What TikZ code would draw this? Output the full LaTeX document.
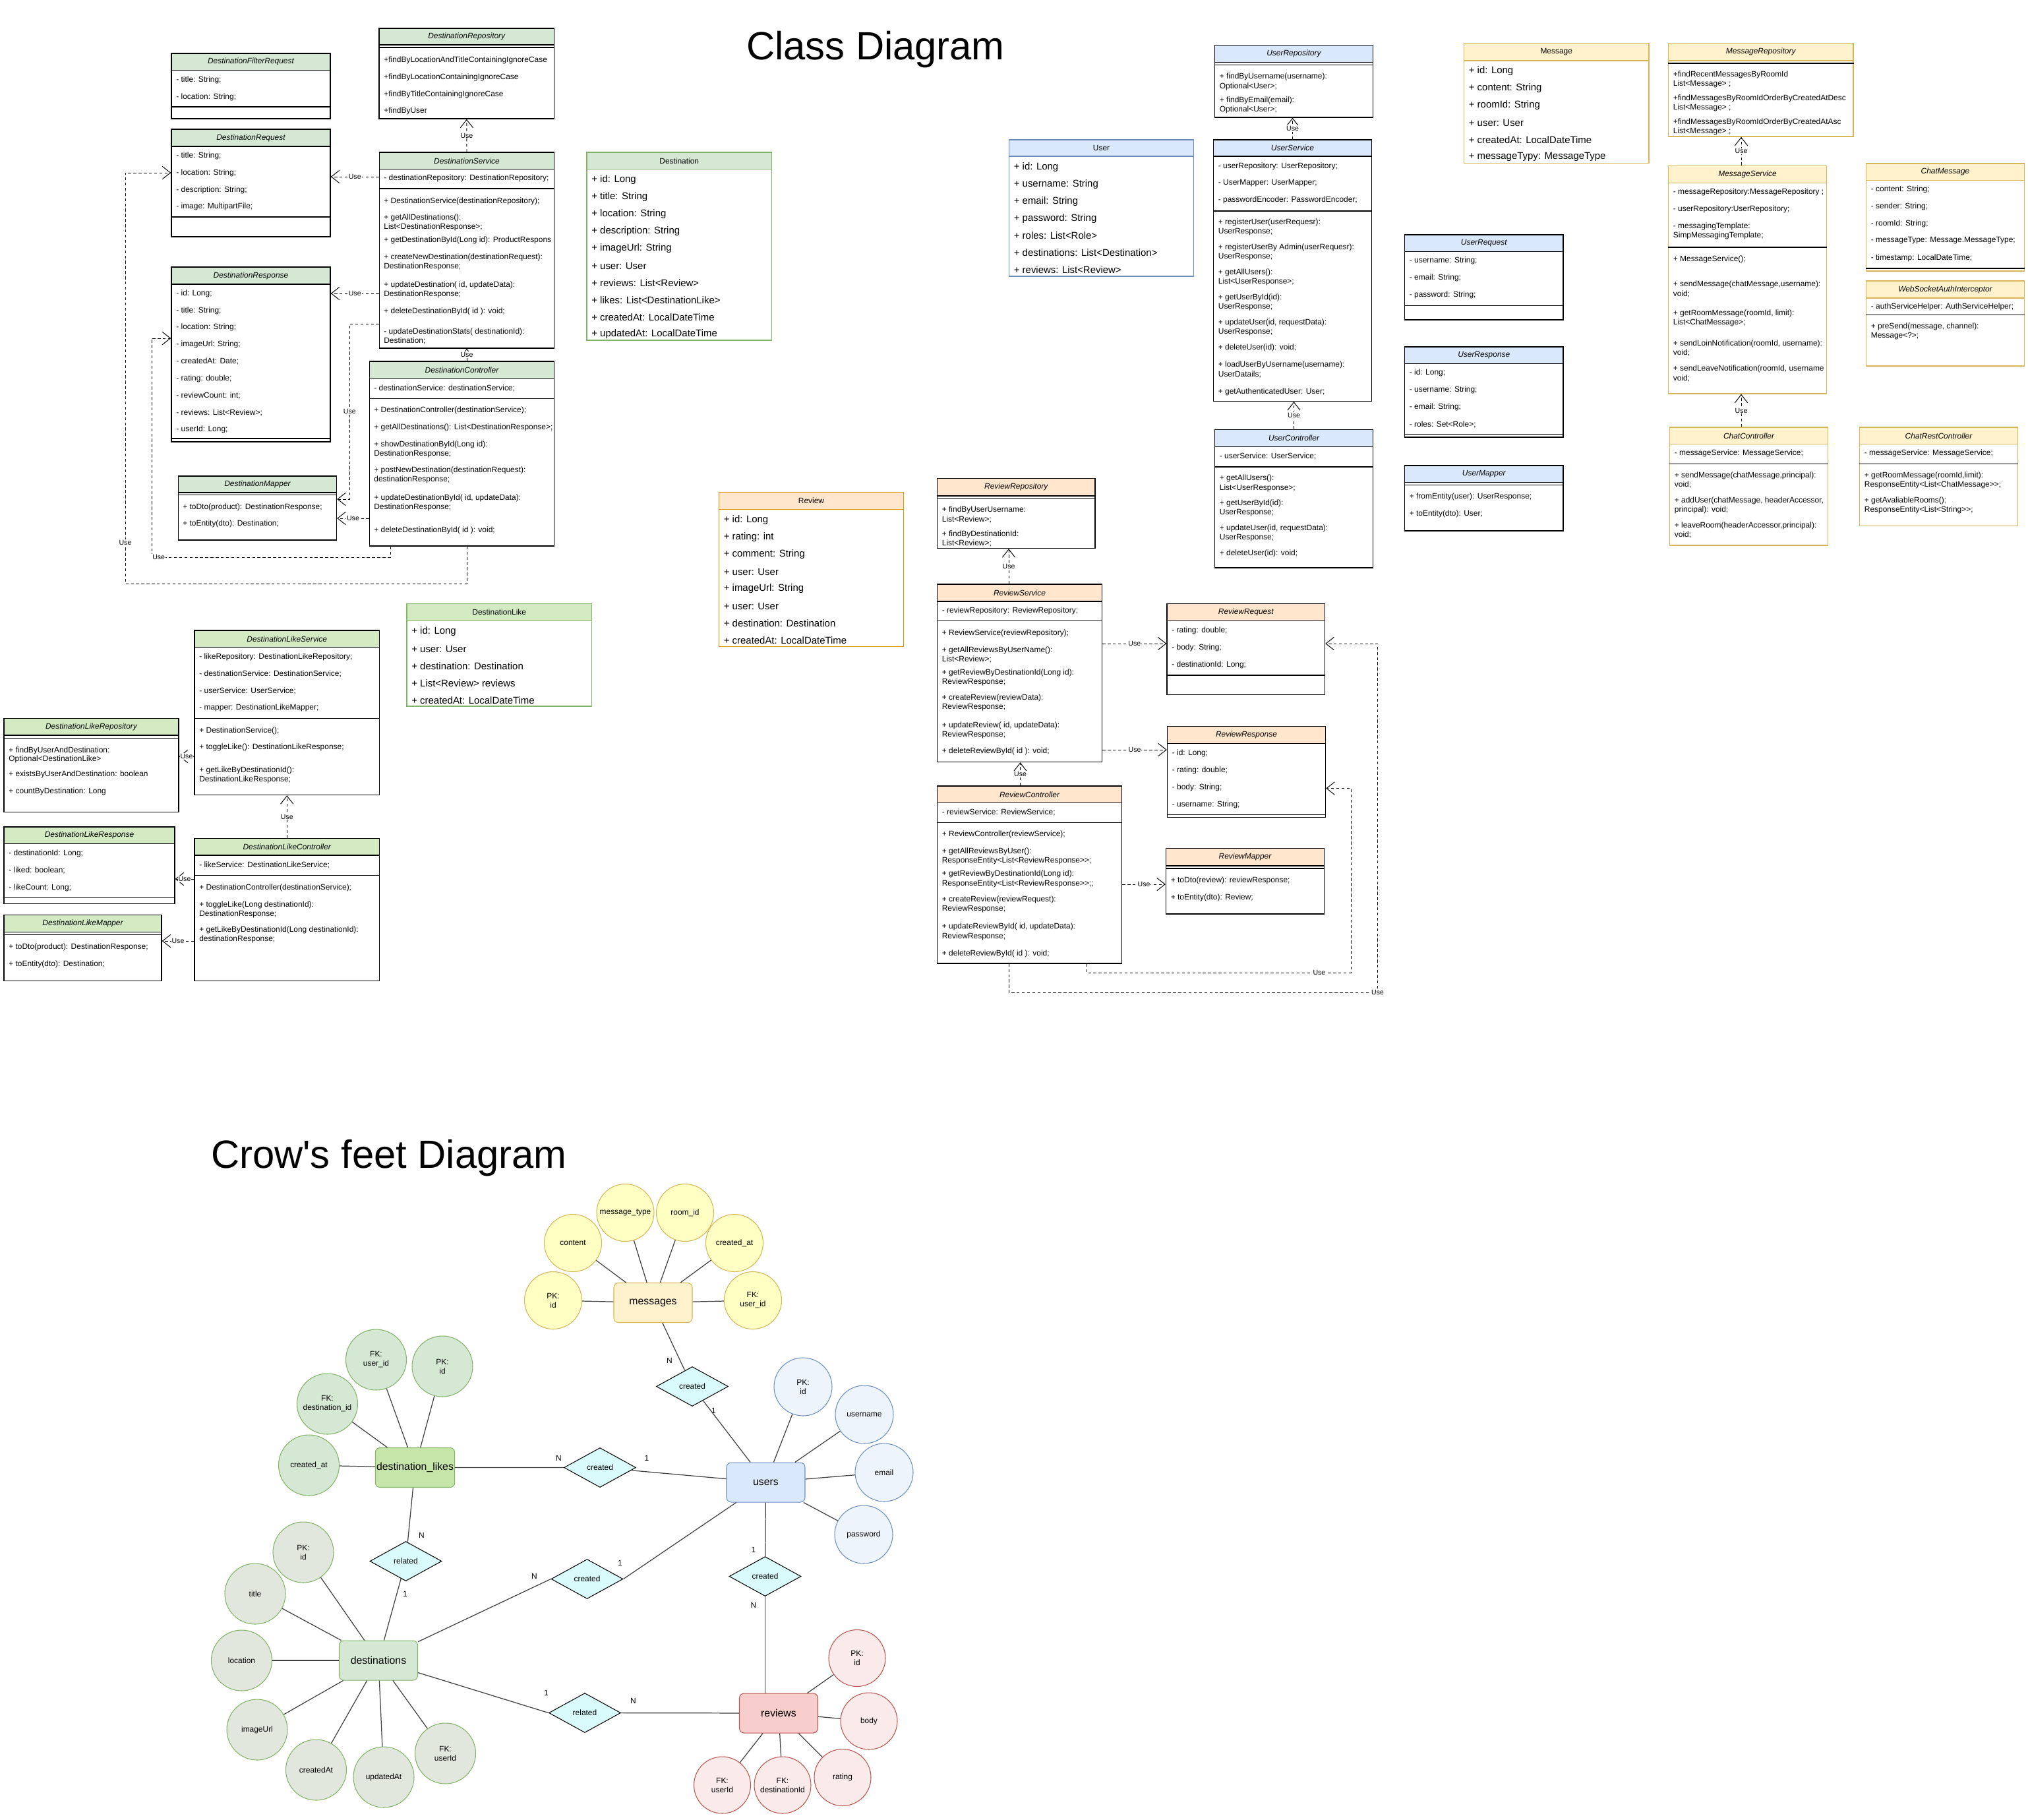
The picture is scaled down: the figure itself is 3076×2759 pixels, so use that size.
\documentclass[tikz,border=0pt]{standalone}
\usepackage{fontspec}
\setmainfont{Liberation Sans}
\usetikzlibrary{fit}
\usetikzlibrary{arrows.meta}
\usetikzlibrary{shapes.geometric}

\definecolor{dgreen}{HTML}{D5E8D4}
\definecolor{dborder}{HTML}{82B366}
\definecolor{lgreen}{HTML}{D3EAC3}
\definecolor{ublue}{HTML}{DAE8FC}
\definecolor{uborder}{HTML}{6C8EBF}
\definecolor{myellow}{HTML}{FFF2CC}
\definecolor{mborder}{HTML}{D6B656}
\definecolor{rorange}{HTML}{FFE6CC}
\definecolor{rborder}{HTML}{D79B00}
\definecolor{yattr}{HTML}{FFFFC4}
\definecolor{lkfill}{HTML}{C6E5A8}
\definecolor{gattr}{HTML}{E2E7DD}
\definecolor{battr}{HTML}{EEF4FC}
\definecolor{rfill}{HTML}{F8CECC}
\definecolor{rline}{HTML}{B85450}
\definecolor{rattr}{HTML}{FAEAEA}
\definecolor{relfill}{HTML}{DAFBFC}

\tikzset{
  txtrow/.style={anchor=west, inner sep=0pt, font=\fontsize{6.8}{8}\selectfont},
  entrow/.style={anchor=west, inner sep=0pt, font=\fontsize{8.5}{10}\selectfont},
  hdr/.style={inner sep=0pt, font=\fontsize{6.8}{8}\selectfont\itshape},
  dgbox/.style={fill=dgreen, draw=black, line width=0.8pt},
  dgent/.style={fill=dgreen, draw=dborder, line width=0.8pt},
  lgbox/.style={fill=lgreen, draw=black, line width=0.8pt},
  lgent/.style={fill=lgreen, draw=dborder, line width=0.8pt},
  ubbox/.style={fill=ublue, draw=black, line width=0.8pt},
  ubent/.style={fill=ublue, draw=uborder, line width=0.8pt},
  mybox/.style={fill=myellow, draw=mborder, line width=0.8pt},
  robox/.style={fill=rorange, draw=black, line width=0.8pt},
  roent/.style={fill=rorange, draw=rborder, line width=0.8pt},
  usedep/.style={line width=0.55pt, dash pattern=on 2.5pt off 2pt, -{Straight Barb[length=7pt, width=11pt]}},
  uselbl/.style={fill=white, inner sep=0.5pt, font=\fontsize{6}{7}\selectfont},
  erent/.style={rectangle, rounded corners=4pt, minimum width=2.38cm, minimum height=1.2cm, inner sep=1pt, line width=0.6pt, font=\fontsize{9}{11}\selectfont},
  erattr/.style={circle, inner sep=0pt, align=center, line width=0.6pt, font=\fontsize{6.8}{8}\selectfont},
  ycirc/.style={erattr, fill=yattr, draw=mborder, minimum size=1.74cm},
  gcirc/.style={erattr, fill=dgreen, draw=dborder, minimum size=1.84cm},
  bcirc/.style={erattr, fill=battr, draw=uborder, minimum size=1.76cm},
  scirc/.style={erattr, fill=gattr, draw=dborder, minimum size=1.84cm},
  rcirc/.style={erattr, fill=rattr, draw=rline, minimum size=1.72cm},
  relship/.style={diamond, aspect=1.8, minimum width=2.18cm, minimum height=1.2cm, inner sep=0pt, fill=relfill, draw=black, line width=0.6pt, font=\fontsize{6.8}{8}\selectfont},
  ercard/.style={inner sep=0pt, font=\fontsize{6.8}{8}\selectfont},
  erlink/.style={draw=black!75, line width=0.7pt}
}

% name, style, left, top, right, bottom, header bottom, title
\newcommand{\umlbox}[8]{%
  \node[fit={(#3,#4) (#5,#6)}, inner sep=0pt, #2, fill=white] (#1) {};
  \filldraw[#2] (#3,#4) rectangle (#5,#7);
  \node[hdr] (#1-h) at ({(#3+#5)/2},{(#4+#7)/2}) {#8};
}
\newcommand{\umlline}[2]{\draw[line width=0.8pt] (#1.west |- 0,#2) -- (#1.east |- 0,#2);}
\newcommand{\umlrows}[4][txtrow]{%
  \foreach \ry/\rt [count=\ri] in {#4}
    \node[#1] (#2-\ri) at (#3,\ry) {\rt};
}

\begin{document}
\begin{tikzpicture}[x=0.02cm, y=-0.02cm]
\path[fill=white, use as bounding box] (0,0) rectangle (3076,2759);

\node[anchor=base, font=\fontsize{34}{40}\selectfont] (ctitle) at (1328,90) {Class Diagram};
\node[anchor=base west, font=\fontsize{34}{40}\selectfont] (ftitle) at (314,1771) {Crow\textquotesingle s feet Diagram};

% destinations
\umlbox{dfilt}{dgbox}{260}{81}{501}{180}{106.5}{DestinationFilterRequest}
\umlline{dfilt}{162}
\umlrows{dfilt}{267}{121/{- title: String;}, 147/{- location: String;}}

\umlbox{dreq}{dgbox}{260}{196}{501}{359}{222}{DestinationRequest}
\umlline{dreq}{329}
\umlrows{dreq}{267}{236/{- title: String;}, 262/{- location: String;}, 288/{- description: String;}, 313.5/{- image: MultipartFile;}}

\umlbox{dresp}{dgbox}{260}{405}{501}{670}{431}{DestinationResponse}
\umlline{dresp}{665}
\umlrows{dresp}{267}{445/{- id: Long;}, 471/{- title: String;}, 496.5/{- location: String;}, 522.5/{- imageUrl: String;}, 548/{- createdAt: Date;}, 574/{- rating: double;}, 600/{- reviewCount: int;}, 625.5/{- reviews: List<Review>;}, 651.5/{- userId: Long;}}

\umlbox{drepo}{dgbox}{575}{43}{840.5}{180}{68}{DestinationRepository}
\umlline{drepo}{72}
\umlrows{drepo}{582}{91/{+findByLocationAndTitleContainingIgnoreCase}, 117/{+findByLocationContainingIgnoreCase}, 143/{+findByTitleContainingIgnoreCase}, 168.5/{+findByUser}}

\umlbox{dsvc}{dgbox}{575.5}{231}{840.5}{528}{256.5}{DestinationService}
\umlline{dsvc}{286}
\umlrows{dsvc}{582}{270/{- destinationRepository: DestinationRepository;}, 305/{+ DestinationService(destinationRepository);}, 330.5/{+ getAllDestinations():}, 344.5/{ List<DestinationResponse>;}, 364.5/{+ getDestinationById(Long id): ProductRespons}, 390.5/{+ createNewDestination(destinationRequest):}, 404.5/{DestinationResponse;}, 432.5/{+ updateDestination( id, updateData):}, 446.5/{DestinationResponse;}, 472.5/{+ deleteDestinationById( id ): void;}, 503/{- updateDestinationStats( destinationId):}, 517/{Destination;}}

\umlbox{dctrl}{dgbox}{560.5}{548}{840.5}{828}{574.5}{DestinationController}
\umlline{dctrl}{604.5}
\umlrows{dctrl}{567}{589/{- destinationService: destinationService;}, 622/{+ DestinationController(destinationService);}, 648.5/{+ getAllDestinations(): List<DestinationResponse>;}, 674.5/{+ showDestinationById(Long id):}, 688.5/{DestinationResponse;}, 713/{+ postNewDestination(destinationRequest):}, 727/{destinationResponse;}, 755/{+ updateDestinationById( id, updateData):}, 769/{DestinationResponse;}, 804.5/{+ deleteDestinationById( id ): void;}}

\umlbox{dmap}{dgbox}{270.5}{722}{510.5}{819}{747}{DestinationMapper}
\umlline{dmap}{750.5}
\umlrows{dmap}{277}{769/{+ toDto(product): DestinationResponse;}, 794/{+ toEntity(dto): Destination;}}

\umlbox{dent}{dgent}{890}{231}{1170.5}{516}{256.5}{\upshape Destination}
\umlrows[entrow]{dent}{897}{273/{+ id: Long}, 299/{+ title: String}, 325/{+ location: String}, 351/{+ description: String}, 377/{+ imageUrl: String}, 403/{+ user: User}, 429/{+ reviews: List<Review>}, 455/{+ likes:  List<DestinationLike>}, 481/{+ createdAt: LocalDateTime}, 507/{+ updatedAt: LocalDateTime}}

% likes
\umlbox{lsvc}{lgbox}{295}{956}{575.5}{1205.5}{981.5}{DestinationLikeService}
\umlline{lsvc}{1089.5}
\umlrows{lsvc}{302}{996/{- likeRepository: DestinationLikeRepository;}, 1022/{- destinationService: DestinationService;}, 1047.5/{- userService: UserService;}, 1073.5/{- mapper: DestinationLikeMapper;}, 1108/{+ DestinationService();}, 1133.5/{+ toggleLike(): DestinationLikeResponse;}, 1168/{+ getLikeByDestinationId():}, 1182/{DestinationLikeResponse;}}

\umlbox{lrepo}{lgbox}{6}{1089.5}{271}{1231.5}{1115}{DestinationLikeRepository}
\umlline{lrepo}{1119.5}
\umlrows{lrepo}{13}{1138/{+ findByUserAndDestination:}, 1151.5/{Optional<DestinationLike>}, 1174/{+ existsByUserAndDestination: boolean}, 1200/{+ countByDestination: Long}}

\umlbox{lresp}{lgbox}{6}{1254}{265}{1370.5}{1279.5}{DestinationLikeResponse}
\umlline{lresp}{1361.5}
\umlrows{lresp}{13}{1294/{- destinationId: Long;}, 1320/{- liked: boolean;}, 1346/{- likeCount: Long;}}

\umlbox{lmap}{lgbox}{6}{1387.5}{245}{1487.5}{1413.5}{DestinationLikeMapper}
\umlline{lmap}{1417.5}
\umlrows{lmap}{13}{1436/{+ toDto(product): DestinationResponse;}, 1462/{+ toEntity(dto): Destination;}}

\umlbox{lctrl}{lgbox}{295}{1271.5}{575.5}{1487.5}{1297}{DestinationLikeController}
\umlline{lctrl}{1327.5}
\umlrows{lctrl}{302}{1312/{- likeService: DestinationLikeService;}, 1346/{+ DestinationController(destinationService);}, 1372/{+ toggleLike(Long destinationId):}, 1386/{DestinationResponse;}, 1410/{+ getLikeByDestinationId(Long destinationId):}, 1424/{destinationResponse;}}

\umlbox{lent}{lgent}{617}{915.5}{897.5}{1071}{941.5}{\upshape DestinationLike}
\umlrows[entrow]{lent}{624}{958/{+ id: Long}, 984/{+ user: User}, 1010/{+ destination: Destination}, 1036/{+ List<Review> reviews}, 1062/{+ createdAt: LocalDateTime}}

% users
\umlbox{uent}{ubent}{1530.5}{212}{1810.5}{419}{237}{\upshape User}
\umlrows[entrow]{uent}{1537.5}{253.5/{+ id: Long}, 279.5/{+ username: String}, 305.5/{+ email: String}, 331.5/{+ password: String}, 357.5/{+ roles: List<Role>}, 383.5/{+ destinations: List<Destination>}, 409.5/{+ reviews: List<Review>}}

\umlbox{urepo}{ubbox}{1842.5}{68.5}{2082.5}{178}{94.5}{UserRepository}
\umlline{urepo}{98.5}
\umlrows{urepo}{1849.5}{116.5/{+ findByUsername(username):}, 131/{Optional<User>;}, 152.5/{+ findByEmail(email):}, 166/{Optional<User>;}}

\umlbox{usvc}{ubbox}{1840.5}{212}{2080.5}{608.5}{237}{UserService}
\umlline{usvc}{320}
\umlrows{usvc}{1847.5}{252/{- userRepository: UserRepository;}, 278/{- UserMapper: UserMapper;}, 303.5/{- passwordEncoder: PasswordEncoder;}, 337/{+ registerUser(userRequesr):}, 351.5/{UserResponse;}, 375.5/{+ registerUserBy Admin(userRequesr):}, 390/{UserResponse;}, 413.5/{+ getAllUsers():}, 427.5/{List<UserResponse>;}, 451.5/{+ getUserById(id):}, 466/{UserResponse;}, 489.5/{+ updateUser(id, requestData):}, 504/{UserResponse;}, 527.5/{+ deleteUser(id): void;}, 553.5/{+ loadUserByUsername(username):}, 568/{UserDatails;}, 594/{+ getAuthenticatedUser: User;}}

\umlbox{uctrl}{ubbox}{1842.5}{651.5}{2082.5}{861}{677.5}{UserController}
\umlline{uctrl}{708}
\umlrows{uctrl}{1849.5}{691.5/{- userService: UserService;}, 725/{+ getAllUsers():}, 740/{List<UserResponse>;}, 763.5/{+ getUserById(id):}, 777.5/{UserResponse;}, 801.5/{+ updateUser(id, requestData):}, 815.5/{UserResponse;}, 839/{+ deleteUser(id): void;}}

\umlbox{ureq}{ubbox}{2130.5}{356}{2371}{485}{381.5}{UserRequest}
\umlline{ureq}{463.5}
\umlrows{ureq}{2137.5}{395.5/{- username: String;}, 421.5/{- email: String;}, 447.5/{- password: String;}}

\umlbox{uresp}{ubbox}{2130.5}{526}{2371}{663}{551.5}{UserResponse}
\umlline{uresp}{658.5}
\umlrows{uresp}{2137.5}{565.5/{- id: Long;}, 591.5/{- username: String;}, 617.5/{- email: String;}, 643.5/{- roles: Set<Role>;}}

\umlbox{umap}{ubbox}{2130.5}{706}{2371}{805}{731.5}{UserMapper}
\umlline{umap}{735.5}
\umlrows{umap}{2137.5}{753.5/{+ fromEntity(user): UserResponse;}, 779.5/{+ toEntity(dto): User;}}

% messages
\umlbox{ment}{mybox}{2220.5}{65.5}{2501}{247.5}{92}{\upshape Message}
\umlrows[entrow]{ment}{2227.5}{108/{+ id: Long}, 134/{+ content: String}, 160/{+ roomId: String}, 186/{+ user: User}, 212/{+ createdAt: LocalDateTime}, 238/{+ messageTypy: MessageType}}

\umlbox{mrepo}{mybox}{2530.5}{65.5}{2811}{207}{92}{MessageRepository}
\umlline{mrepo}{96}
\umlrows{mrepo}{2537.5}{113.5/{+findRecentMessagesByRoomId}, 127.5/{List<Message> ;}, 149.5/{+findMessagesByRoomIdOrderByCreatedAtDesc}, 163.5/{List<Message> ;}, 185/{+findMessagesByRoomIdOrderByCreatedAtAsc}, 199/{List<Message> ;}}

\umlbox{msvc}{mybox}{2530.5}{251.5}{2770.5}{597}{277.5}{MessageService}
\umlline{msvc}{375}
\umlrows{msvc}{2537.5}{291/{- messageRepository:MessageRepository ;}, 317.5/{- userRepository:UserRepository;}, 343.5/{- messagingTemplate:}, 357.5/{SimpMessagingTemplate;}, 393.5/{+ MessageService();}, 431.5/{+ sendMessage(chatMessage,username):}, 445.5/{void;}, 475/{+ getRoomMessage(roomId, limit):}, 489.5/{List<ChatMessage>;}, 521.5/{+ sendLoinNotification(roomId, username):}, 535/{void;}, 559.5/{+ sendLeaveNotification(roomId, username}, 573.5/{void;}}

\umlbox{mctrl}{mybox}{2532.5}{648}{2772.5}{827}{673.5}{ChatController}
\umlline{mctrl}{703.5}
\umlrows{mctrl}{2539.5}{687.5/{- messageService: MessageService;}, 721.5/{+ sendMessage(chatMessage,principal):}, 735/{ void;}, 759.5/{+ addUser(chatMessage, headerAccessor,}, 773.5/{principal): void;}, 797.5/{+ leaveRoom(headerAccessor,principal):}, 811/{void;}}

\umlbox{mchat}{mybox}{2830.5}{248}{3070.5}{411}{273.5}{ChatMessage}
\umlline{mchat}{407}
\umlrows{mchat}{2837.5}{287/{- content: String;}, 313/{- sender: String;}, 339/{- roomId: String;}, 365/{- messageType: Message.MessageType;}, 391/{- timestamp: LocalDateTime;}}

\umlbox{mws}{mybox}{2830.5}{426}{3070.5}{555}{452}{WebSocketAuthInterceptor}
\umlline{mws}{477.5}
\umlrows{mws}{2837.5}{465.5/{- authServiceHelper: AuthServiceHelper;}, 495.5/{+ preSend(message, channel):}, 509.5/{Message<?>;}}

\umlbox{mrest}{mybox}{2820.5}{648}{3060.5}{797.5}{673.5}{ChatRestController}
\umlline{mrest}{703.5}
\umlrows{mrest}{2827.5}{687.5/{- messageService: MessageService;}, 721.5/{+ getRoomMessage(roomId,limit):}, 735/{ ResponseEntity<List<ChatMessage>\kern0pt>;}, 759.5/{+ getAvaliableRooms():}, 773.5/{ResponseEntity<List<String>\kern0pt>;}}

% reviews
\umlbox{rent}{roent}{1090.5}{746.5}{1370.5}{980.5}{772.5}{\upshape Review}
\umlrows[entrow]{rent}{1097.5}{789/{+ id: Long}, 815/{+ rating: int}, 841/{+ comment: String}, 867/{+ user: User}, 893/{+ imageUrl: String}, 919/{+ user:  User}, 945/{+ destination: Destination}, 971/{+ createdAt: LocalDateTime}}

\umlbox{rrepo}{robox}{1421.5}{725.5}{1661}{831.5}{752}{ReviewRepository}
\umlline{rrepo}{755.5}
\umlrows{rrepo}{1428.5}{773.5/{+ findByUserUsername:}, 788/{List<Review>;}, 810/{+ findByDestinationId:}, 824/{List<Review>;}}

\umlbox{rsvc}{robox}{1421.5}{886}{1671.5}{1155.5}{912}{ReviewService}
\umlline{rsvc}{941.5}
\umlrows{rsvc}{1428.5}{926/{- reviewRepository: ReviewRepository;}, 960/{+ ReviewService(reviewRepository);}, 986/{+ getAllReviewsByUserName():}, 1000/{List<Review>;}, 1020/{+ getReviewByDestinationId(Long id):}, 1034/{ ReviewResponse;}, 1058/{+ createReview(reviewData):}, 1072/{ReviewResponse;}, 1100/{+ updateReview( id, updateData):}, 1114/{ReviewResponse;}, 1139.5/{+ deleteReviewById( id ): void;}}

\umlbox{rctrl}{robox}{1421.5}{1192}{1701.5}{1461}{1217.5}{ReviewController}
\umlline{rctrl}{1247.5}
\umlrows{rctrl}{1428.5}{1231.5/{- reviewService: ReviewService;}, 1265.5/{+ ReviewController(reviewService);}, 1291.5/{+ getAllReviewsByUser():}, 1305.5/{ResponseEntity<List<ReviewResponse>\kern0pt>;}, 1325.5/{+ getReviewByDestinationId(Long id):}, 1340/{ ResponseEntity<List<ReviewResponse>\kern0pt>;;}, 1364/{+ createReview(reviewRequest):}, 1378/{ReviewResponse;}, 1405.5/{+ updateReviewById( id, updateData):}, 1420/{ReviewResponse;}, 1446/{+ deleteReviewById( id ): void;}}

\umlbox{rreq}{robox}{1770}{915.5}{2009.5}{1053.5}{941.5}{ReviewRequest}
\umlline{rreq}{1024}
\umlrows{rreq}{1777}{956/{- rating: double;}, 982/{- body: String;}, 1008/{- destinationId: Long;}}

\umlbox{rresp}{robox}{1770.5}{1101.5}{2010.5}{1239.5}{1127.5}{ReviewResponse}
\umlline{rresp}{1235.5}
\umlrows{rresp}{1777.5}{1142/{- id: Long;}, 1168/{- rating: double;}, 1194/{- body: String;}, 1220/{- username: String;}}

\umlbox{rmap}{robox}{1768.5}{1286.5}{2008.5}{1386}{1313}{ReviewMapper}
\umlline{rmap}{1317}
\umlrows{rmap}{1775.5}{1335/{+ toDto(review): reviewResponse;}, 1361/{+ toEntity(dto): Review;}}

% use dependencies
\draw[usedep] (dsvc.north) -- node[uselbl] (u1) {Use} (drepo.south);
\draw[usedep] (dsvc.west |- 0,268) -- node[uselbl] (u2) {Use} (dreq.east |- 0,268);
\draw[usedep] (dsvc.west |- 0,445) -- node[uselbl] (u3) {Use} (dresp.east |- 0,445);
\draw[usedep] (dsvc.west |- 0,491) -- ++(-44.5,0) |- node[uselbl, pos=0.25] (u4) {Use} (dmap.east |- 0,757);
\draw[usedep] (dsvc.south |- dctrl.north) -- node[uselbl] (u5) {Use} (dsvc.south);
\draw[usedep] (dctrl.west |- 0,786) -- node[uselbl] (u6) {Use} (dmap.east |- 0,786);
\draw[usedep] (dctrl.south -| 592,0) |- (230,845) node[uselbl, anchor=west] (u7) {Use} |- (dresp.west |- 0,513);
\draw[usedep] (dctrl.south -| 708,0) |- (190,885) |- node[uselbl, pos=0.05] (u8) {Use} (dreq.west |- 0,262);

\draw[usedep] (lsvc.west |- 0,1147) -- node[uselbl] (u9) {Use} (lrepo.east |- 0,1147);
\draw[usedep] (lctrl.north) -- node[uselbl] (u10) {Use} (lctrl.north |- lsvc.south);
\draw[usedep] (lctrl.west |- 0,1333) -- node[uselbl] (u11) {Use} (lresp.east |- 0,1333);
\draw[usedep] (lctrl.west |- 0,1427) -- node[uselbl] (u12) {Use} (lmap.east |- 0,1427);

\draw[usedep] (usvc.north) -- node[uselbl] (u13) {Use} (usvc.north |- urepo.south);
\draw[usedep] (uctrl.north) -- node[uselbl] (u14) {Use} (uctrl.north |- usvc.south);

\draw[usedep] (msvc.north -| 2641,0) -- node[uselbl] (u15) {Use} (mrepo.south -| 2641,0);
\draw[usedep] (mctrl.north -| 2641,0) -- node[uselbl] (u16) {Use} (msvc.south -| 2641,0);

\draw[usedep] (rsvc.north -| 1530,0) -- node[uselbl] (u17) {Use} (rrepo.south -| 1530,0);
\draw[usedep] (rctrl.north -| 1547.5,0) -- node[uselbl] (u18) {Use} (rsvc.south -| 1547.5,0);
\draw[usedep] (rsvc.east |- 0,976) -- node[uselbl] (u19) {Use} (rreq.west |- 0,976);
\draw[usedep] (rsvc.east |- 0,1137) -- node[uselbl] (u20) {Use} (rresp.west |- 0,1137);
\draw[usedep] (rctrl.east |- 0,1341) -- node[uselbl] (u21) {Use} (rmap.west |- 0,1341);
\draw[usedep] (rctrl.south -| 1648,0) |- node[uselbl, pos=0.94] (u22) {Use} (2049,1475) |- (rresp.east |- 0,1195.5);
\draw[usedep] (rctrl.south -| 1530,0) |- (2089.5,1505) node[uselbl] (u23) {Use} |- (rreq.east |- 0,976);

% crow's feet
\node[erent, fill=myellow, draw=mborder] (msg) at (990.5,1975.5) {messages};
\node[erent, fill=lkfill, draw=dborder] (lk) at (629.5,2225.5) {destination\_likes};
\node[erent, fill=ublue, draw=uborder] (us) at (1161.5,2248) {users};
\node[erent, fill=dgreen, draw=dborder] (ds) at (574,2518) {destinations};
\node[erent, fill=rfill, draw=rline] (rv) at (1181,2598) {reviews};

\foreach \n/\p/\t in {mid/{839,1972}/{PK:\\id}, mcont/{869,1885}/{content}, mtype/{948.5,1839}/{message\_type}, mroom/{1039,1839}/{room\_id}, mcre/{1114,1885}/{created\_at}, muid/{1142,1972}/{FK:\\user\_id}}
  \node[ycirc] (\n) at (\p) {\t};
\foreach \n/\p/\t in {lkcre/{468.5,2222}/{created\_at}, lkdid/{496.5,2129}/{FK:\\destination\_id}, lkuid/{570.5,2062}/{FK:\\user\_id}, lkid/{671,2072}/{PK:\\id}}
  \node[gcirc] (\n) at (\p) {\t};
\foreach \n/\p/\t in {usid/{1218,2103}/{PK:\\id}, usname/{1311,2145}/{username}, usmail/{1341,2233}/{email}, uspw/{1310,2327}/{password}}
  \node[bcirc] (\n) at (\p) {\t};
\foreach \n/\p/\t in {dsid/{460,2354}/{PK:\\id}, dstitle/{387,2417}/{title}, dsloc/{366.5,2518}/{location}, dsimg/{390,2623}/{imageUrl}, dscre/{479.5,2684}/{createdAt}, dsupd/{582,2695}/{updatedAt}, dsuid/{675.5,2659}/{FK:\\userId}}
  \node[scirc] (\n) at (\p) {\t};
\foreach \n/\p/\t in {rvid/{1300,2514.5}/{PK:\\id}, rvbody/{1318,2610}/{body}, rvrate/{1278,2695.5}/{rating}, rvdid/{1187,2707}/{FK:\\destinationId}, rvuid/{1095.5,2707}/{FK:\\userId}}
  \node[rcirc] (\n) at (\p) {\t};

\foreach \n in {mid,mcont,mtype,mroom,mcre,muid} \draw[erlink] (msg) -- (\n);
\foreach \n in {lkcre,lkdid,lkuid,lkid} \draw[erlink] (lk) -- (\n);
\foreach \n in {usid,usname,usmail,uspw} \draw[erlink] (us) -- (\n);
\foreach \n in {dsid,dstitle,dsloc,dsimg,dscre,dsupd,dsuid} \draw[erlink] (ds) -- (\n);
\foreach \n in {rvid,rvbody,rvrate,rvdid,rvuid} \draw[erlink] (rv) -- (\n);

\node[relship] (rmu) at (1050,2102.5) {created};
\node[relship] (rlu) at (910,2225.5) {created};
\node[relship] (rld) at (615.5,2367.5) {related};
\node[relship] (rdu) at (890.5,2394.5) {created};
\node[relship] (rur) at (1160.5,2390.5) {created};
\node[relship] (rdr) at (887,2597.5) {related};

\draw[erlink] (msg) -- (rmu) -- (us);
\draw[erlink] (lk) -- (rlu) -- (us);
\draw[erlink] (lk) -- (rld) -- (ds);
\draw[erlink] (ds) -- (rdu.west);
\draw[erlink] (rdu.east) -- (us);
\draw[erlink] (us) -- (rur);
\draw[erlink] (rur.south) -- (rur.south |- rv.north);
\draw[erlink] (ds) -- (rdr.west);
\draw[erlink] (rdr) -- (rv);

\foreach \n/\p/\t in {c1/{1015.5,2063}/N, c2/{1082.5,2139.5}/1, c3/{847.5,2211.5}/N, c4/{981,2211.5}/1, c5/{639.5,2328}/N, c6/{614.5,2417}/1, c7/{810.5,2390.5}/N, c8/{940.5,2370.5}/1, c9/{1143,2350.5}/1, c10/{1143,2434.5}/N, c11/{828.5,2567.5}/1, c12/{960.5,2579}/N}
  \node[ercard] (\n) at (\p) {\t};
\end{tikzpicture}
\end{document}
